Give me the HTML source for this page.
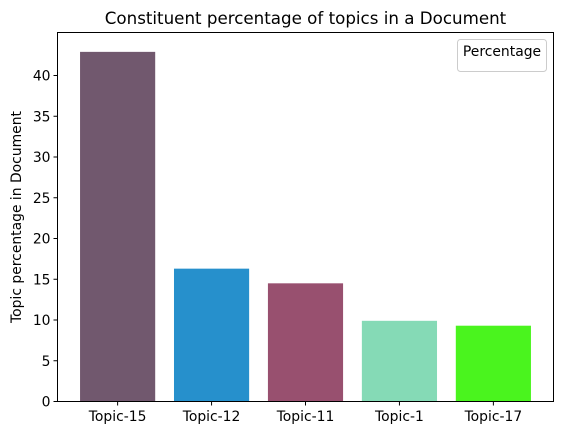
<!DOCTYPE html>
<html><head><meta charset="utf-8"><style>
body{margin:0;background:#fff;}
svg{display:block;font-family:"DejaVu Sans","Liberation Sans",sans-serif;}
</style></head><body>
<svg id="chart" width="562" height="435" viewBox="0 0 562 435">
<rect x="0" y="0" width="562" height="435" fill="#fff"/>
<text x="305.5" y="24" text-anchor="middle" font-size="16.7" fill="#000">Constituent percentage of topics in a Document</text>
<g id="bars"></g>
<g id="yticks"></g>
<g id="xticks"></g>
<rect x="57.5" y="32.5" width="496" height="369" fill="none" stroke="#000" stroke-width="1"/>
<text transform="translate(21,217) rotate(-90)" text-anchor="middle" font-size="13.9" fill="#000">Topic percentage in Document</text>
<g>
<rect x="457.5" y="39.5" width="89" height="32" rx="3" fill="#fff" stroke="#ccc"/>
<text x="502" y="56" text-anchor="middle" font-size="13.9" fill="#000">Percentage</text>
</g>
</svg>
<script>
const categories=["Topic-15","Topic-12","Topic-11","Topic-1","Topic-17"];
const values=[42.9,16.3,14.5,9.9,9.3];
const colors=["#71586e","#2690cc","#98506f","#85dab6","#4af41e"];
const yTicks=[0,5,10,15,20,25,30,35,40];
const NS="http://www.w3.org/2000/svg";
const x0=57.5,x1=553.5,xmin=-0.64,xmax=4.64;
const yBase=401.5,pxPerUnit=8.15;
function xs(i){return x0+(i-xmin)/(xmax-xmin)*(x1-x0);}
function ys(v){return yBase-v*pxPerUnit;}
const bw=(x1-x0)/(xmax-xmin)*0.8;
const gb=document.getElementById('bars'),gy=document.getElementById('yticks'),gx=document.getElementById('xticks');
categories.forEach((c,i)=>{
 const r=document.createElementNS(NS,'rect');
 r.setAttribute('x',xs(i)-bw/2);r.setAttribute('y',ys(values[i]));
 r.setAttribute('width',bw);r.setAttribute('height',ys(0)-ys(values[i]));
 r.setAttribute('fill',colors[i]);
 
 
 gb.appendChild(r);
 const l=document.createElementNS(NS,'line');
 l.setAttribute('x1',xs(i));l.setAttribute('x2',xs(i));l.setAttribute('y1',yBase);l.setAttribute('y2',yBase+4);l.setAttribute('stroke','#000');
 
 
 gx.appendChild(l);
 const t=document.createElementNS(NS,'text');
 t.setAttribute('x',xs(i));t.setAttribute('y',421);t.setAttribute('text-anchor','middle');t.setAttribute('font-size','13.9');
 t.textContent=c;
 
 
 gx.appendChild(t);
});
yTicks.forEach(v=>{
 const l=document.createElementNS(NS,'line');
 l.setAttribute('x1',x0-4);l.setAttribute('x2',x0);l.setAttribute('y1',ys(v));l.setAttribute('y2',ys(v));l.setAttribute('stroke','#000');
 
 
 gy.appendChild(l);
 const t=document.createElementNS(NS,'text');
 t.setAttribute('x',x0-7);t.setAttribute('y',ys(v)+5);t.setAttribute('text-anchor','end');t.setAttribute('font-size','13.9');
 t.textContent=v;
 
 
 gy.appendChild(t);
});
</script>
</body></html>
